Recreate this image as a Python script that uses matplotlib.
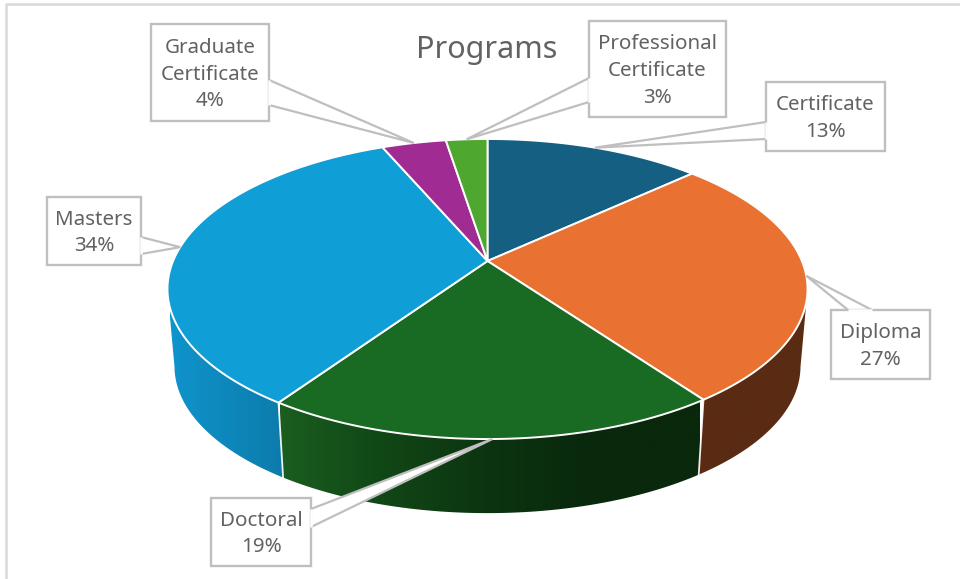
import numpy as np
import matplotlib
matplotlib.use("Agg")
import matplotlib.pyplot as plt
from matplotlib.colors import LinearSegmentedColormap
from matplotlib.patches import Polygon, Rectangle

# values (share of programs, %)
categories = ["Certificate", "Diploma", "Doctoral", "Masters", "Graduate\nCertificate", "Professional\nCertificate"]
shares = [13.1, 27.0, 19.4, 34.1, 3.89, 2.51]
colors = ["#156082", "#E97132", "#196B24", "#0F9ED5", "#A02B93", "#4EA72E"]

# pie projection, pixels
CX, CY, A, B, K = 487.5, 261.0, 314.4, 144.8, 0.1867
BOTTOM_CY, BOTTOM_SCALE = 339.0, 0.978
GRAY = "#BFBFBF"
TEXT = "#626262"

plt.rcParams["font.family"] = ["Noto Sans", "DejaVu Sans"]


def rim(theta, cy=CY, scale=1.0):
    theta = np.radians(theta)
    w = 1 + K * np.cos(theta)
    x = CX + scale * A * np.sin(theta) / w
    y = cy - scale * B * np.cos(theta) / w
    return np.column_stack([x, y])


def side_poly(t0, t1):
    ts = np.linspace(t0, t1, 80)
    return np.vstack([rim(ts), rim(ts[::-1], BOTTOM_CY, BOTTOM_SCALE)])


def gradient_side(ax, t0, t1, cols, x0, x1, y0=250, y1=530):
    cmap = LinearSegmentedColormap.from_list("side", cols)
    grad = np.linspace(0, 1, 256).reshape(1, -1)
    im = ax.imshow(grad, cmap=cmap, extent=(x0, x1, y1, y0), aspect="auto", zorder=2)
    im.set_clip_path(Polygon(side_poly(t0, t1), transform=ax.transData))


def callout(ax, box, base, tip, label):
    x0, y0, x1, y1 = box
    ax.add_patch(Polygon([base[0], tip, base[1]], closed=False, fc="white", ec=GRAY, lw=1.6, zorder=5, joinstyle="miter"))
    ax.add_patch(Rectangle((x0, y0), x1 - x0, y1 - y0, fc="white", ec=GRAY, lw=1.7, zorder=6))
    # open the box edge where the leader joins it
    ax.plot([base[0][0], base[1][0]], [base[0][1], base[1][1]], color="white", lw=1.8, zorder=7, solid_capstyle="butt")
    ax.text((x0 + x1) / 2, (y0 + y1) / 2 + 2, label, ha="center", va="center", color=TEXT,
            fontsize=14.8, linespacing=1.46, zorder=8)


fig = plt.figure(figsize=(9.6, 5.79), dpi=100)
ax = fig.add_axes([0, 0, 1, 1])

edges = np.cumsum([0] + shares) * 3.6

# side wall: visible front part only
diploma_end, doctoral_end = edges[2], edges[3]
gradient_side(ax, 101, diploma_end, ["#5A2B13", "#5A2B13"], 690, 810)
gradient_side(ax, diploma_end, doctoral_end, ["#1A5E20", "#114616", "#0C3410", "#09280C", "#09280C"], 280, 700)
gradient_side(ax, doctoral_end, 259, ["#0F94CC", "#0C7BAB"], 170, 285)
for t in (diploma_end, doctoral_end):
    p0, p1 = rim(t), rim(t, BOTTOM_CY, BOTTOM_SCALE)
    ax.plot([p0[0, 0], p1[0, 0]], [p0[0, 1], p1[0, 1]], color="white", lw=1.3, alpha=0.9, zorder=3)

# top face
for i, col in enumerate(colors):
    arc = rim(np.linspace(edges[i], edges[i + 1], 120))
    ax.add_patch(Polygon(np.vstack([[CX, CY], arc]), fc=col, ec="white", lw=1.4, zorder=4, joinstyle="round"))

# labels
boxes = [(766, 82, 885, 151), (831, 310, 930, 379), (211, 498, 311, 566),
         (47, 197, 141, 265), (151, 24, 269, 121), (589, 21, 726, 117)]
bases = [[(766, 122), (766, 139)], [(848, 310), (872, 310)], [(311, 509), (311, 527)],
         [(141, 237), (141, 254)], [(269, 80), (269, 105)], [(589, 78), (589, 102)]]
mids = (edges[:-1] + edges[1:]) / 2
for i, name in enumerate(categories):
    tip = rim(mids[i])[0]
    callout(ax, boxes[i], bases[i], tip, f"{name}\n{round(shares[i])}%")

ax.text(487, 50, "Programs", ha="center", va="center", color=TEXT, fontsize=22, zorder=8)

# chart area border, cropped at right and bottom
ax.plot([6, 6, 960], [579, 4, 4], color="#D9D9D9", lw=1.8, zorder=1)

ax.set_xlim(0, 960)
ax.set_ylim(579, 0)
ax.axis("off")
fig.savefig("out.png", dpi=100, facecolor="white")
